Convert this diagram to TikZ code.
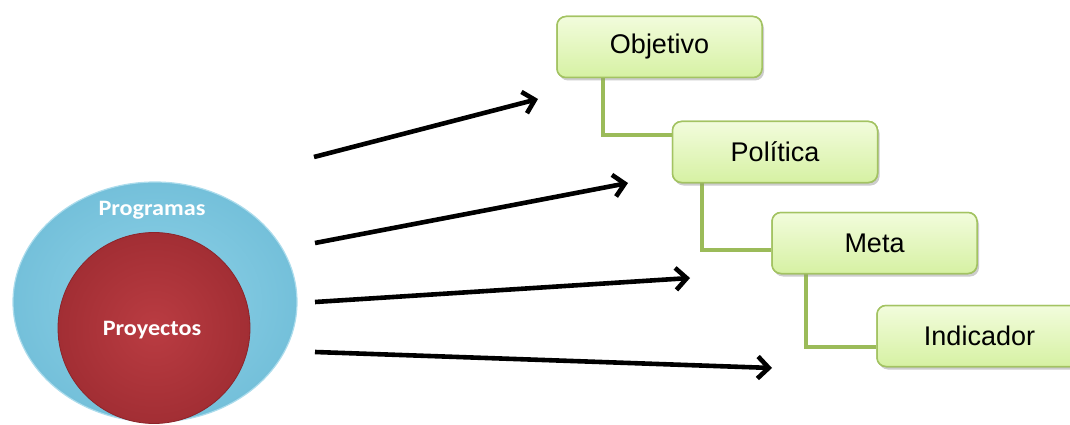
\documentclass[tikz,border=0pt]{standalone}
\usepackage{fontspec}
\setmainfont{Liberation Sans}
\newfontfamily\ringfont{Carlito}
\usetikzlibrary{arrows.meta,shadows,shapes.geometric}

\definecolor{boxedge}{RGB}{163,195,98}
\definecolor{boxtop}{RGB}{242,252,220}
\definecolor{boxbot}{RGB}{214,241,163}
\definecolor{linkgreen}{RGB}{155,187,89}
\definecolor{skyin}{RGB}{142,210,232}
\definecolor{skyout}{RGB}{116,192,218}
\definecolor{skyedge}{RGB}{172,220,236}
\definecolor{redin}{RGB}{186,60,66}
\definecolor{redout}{RGB}{162,46,52}
\definecolor{redrim}{RGB}{140,36,42}

\begin{document}
\begin{tikzpicture}[x=1pt,y=-1pt,
  levelbox/.style={draw=boxedge, line width=1.5pt, rounded corners=9pt,
    top color=boxtop, bottom color=boxbot,
    minimum width=205pt, minimum height=61pt, inner sep=0pt,
    font=\fontsize{27}{31}\selectfont,
    drop shadow={shadow xshift=2pt, shadow yshift=-3pt, opacity=0.22}},
  link/.style={draw=linkgreen, line width=4.5pt},
  pointer/.style={draw=black, line width=4.6pt,
    -{Straight Barb[length=11pt,width=22pt]}},
  ring/.style={ellipse, inner sep=0pt},
  ringlabel/.style={text=white, anchor=base,
    font=\ringfont\bfseries\fontsize{22}{26}\selectfont}]

\useasboundingbox (0,0) rectangle (1070,425);

% nested program / project circles
\node[ring, minimum width=284pt, minimum height=240pt, draw=skyedge,
  line width=1.2pt, inner color=skyin, outer color=skyout] (prog) at (155,302) {};
\node[ring, minimum width=192pt, minimum height=191pt, draw=redrim,
  line width=0.8pt, inner color=redin, outer color=redout] (proj) at (154,328) {};
\node[ringlabel] (proglabel) at (152,215) {\scalebox{1.1}[1]{Programas}};
\node[ringlabel] (projlabel) at (152,335) {\scalebox{1.1}[1]{Proyectos}};

% hierarchy boxes
\coordinate (c1) at (603,0);
\coordinate (c2) at (702,0);
\coordinate (c3) at (806,0);
\node[levelbox] (obj) at (659.5,47) {Objetivo};
\node[levelbox] (pol) at (775,152) {Política};
\node[levelbox] (meta) at (874.5,243) {Meta};
\node[levelbox] (ind) at (979.5,336) {Indicador};

% elbow links between the levels
\path[link] (obj.south -| c1) |- ([yshift=17pt]pol.west);
\path[link] (pol.south -| c2) |- ([yshift=-7pt]meta.west);
\path[link] (meta.south -| c3) |- ([yshift=-11pt]ind.west);
% boxes again, above the links
\node[levelbox] at (obj) {Objetivo};
\node[levelbox] at (pol) {Política};
\node[levelbox] at (meta) {Meta};
\node[levelbox] at (ind) {Indicador};

% pointers from the circles to the levels
\coordinate (s1) at (314,157);
\coordinate (s2) at (315,243);
\coordinate (s3) at (315,302);
\coordinate (s4) at (315,352);
\coordinate (e1) at (538,99);
\coordinate (e2) at (628,183);
\coordinate (e3) at (690,278);
\coordinate (e4) at (772,368);
\draw[pointer] (s1) -- (e1);
\draw[pointer] (s2) -- (e2);
\draw[pointer] (s3) -- (e3);
\draw[pointer] (s4) -- (e4);
\end{tikzpicture}
\end{document}
